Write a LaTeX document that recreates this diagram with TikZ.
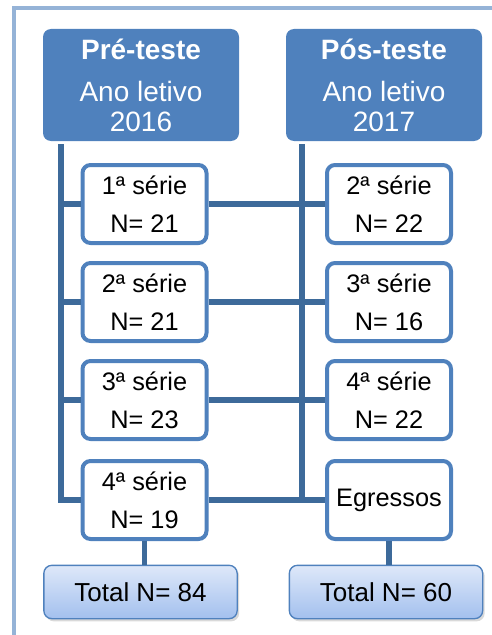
\documentclass[tikz,border=0pt]{standalone}
\usepackage{fontspec}
\setmainfont{Liberation Sans}
\usepackage{tikz}
\usetikzlibrary{shadows}
\definecolor{hdrclr}{RGB}{79,129,189}
\definecolor{lineclr}{RGB}{61,106,154}
\definecolor{frameclr}{RGB}{149,179,215}
\definecolor{topclr}{RGB}{222,232,249}
\definecolor{botclr}{RGB}{163,192,238}
\tikzset{ %
  ,frame/.style={draw=frameclr, line width=3pt}
  ,header/.style={fill=hdrclr, text=white, rounded corners=6pt, inner sep=0, minimum width=147pt, minimum height=84pt, align=center, font=\fontsize{21}{22.5}\selectfont}
  ,grade/.style={draw=hdrclr, line width=3pt, fill=white, rounded corners=6pt, inner sep=0, minimum width=93pt, minimum height=58.5pt, align=center, font=\fontsize{19}{28.5}\selectfont}
  ,total/.style={draw=hdrclr, line width=1pt, top color=topclr, bottom color=botclr, rounded corners=6pt, inner sep=0, minimum width=145pt, minimum height=40pt, font=\fontsize{19.5}{22}\selectfont, drop shadow={opacity=0.3, shadow xshift=1.5pt, shadow yshift=-2pt}}
  ,conn/.style={draw=lineclr, line width=4pt}
}
\begin{document}
\begin{tikzpicture}[x=0.75pt, y=-0.75pt]
      \useasboundingbox (0,0) rectangle (492,635);
      \draw[frame] (14,645) -- (14,8) -- (500,8);
      \draw
      node[header] (pre) at (141,85) {\textbf{Pré-teste}\\[9pt]Ano letivo\\2016}
      node[header] (pos) at (384,85) {\textbf{Pós-teste}\\[9pt]Ano letivo\\2017}
      node[grade] (a1) at (144.5,204) {1ª série\\N= 21}
      node[grade] (a2) at (144.5,302) {2ª série\\N= 21}
      node[grade] (a3) at (144.5,400) {3ª série\\N= 23}
      node[grade] (a4) at (144.5,500) {4ª série\\N= 19}
      node[grade] (b1) at (389,204) {2ª série\\N= 22}
      node[grade] (b2) at (389,302) {3ª série\\N= 16}
      node[grade] (b3) at (389,400) {4ª série\\N= 22}
      node[grade] (b4) at (389,500) {Egressos}
      node[total] (tl) at (140.5,592) {Total N= 84}
      node[total] (tr) at (386,592) {Total N= 60};
      \coordinate (lt) at (61,144);
      \coordinate (rt) at (302,144);
      \draw[conn] (lt) |- (a4.west) (rt) -- (rt |- b4.west);
      \foreach \i in {1,...,3} \draw[conn] (lt |- a\i.west) -- (a\i.west);
      \foreach \i in {1,...,4} \draw[conn] (a\i.east) -- (b\i.west);
      \draw[conn] (a4.south) -- (a4.south |- tl.north) (b4.south) -- (b4.south |- tr.north);
    \end{tikzpicture}
\end{document}
